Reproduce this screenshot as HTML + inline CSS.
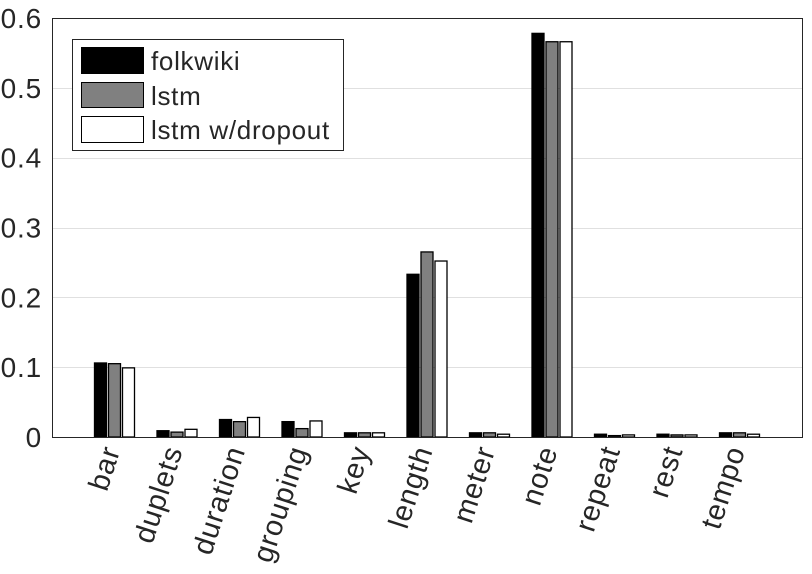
<!DOCTYPE html>
<html><head><meta charset="utf-8"><style>
body{margin:0;background:#fff}
svg text{font-family:"Liberation Sans",sans-serif;fill:#262626}
</style></head><body>
<svg id="chart" width="812" height="569" xmlns="http://www.w3.org/2000/svg">
<g id="grid"></g>
<g id="bars"></g>
<rect x="52.5" y="18.5" width="750" height="419" fill="none" stroke="#262626" stroke-width="1"/>
<g id="yticks"></g>
<g id="xticks"></g>
<g>
<rect x="72.5" y="39.5" width="271" height="111" fill="#fff" stroke="#262626"/>
<rect x="81.5" y="47.5" width="62" height="26" fill="#000" stroke="#000"/>
<text x="151" y="70" font-size="26" letter-spacing="0.7">folkwiki</text>
<rect x="81.5" y="82.5" width="62" height="25" fill="#808080" stroke="#000"/>
<text x="151" y="105" font-size="26" letter-spacing="0.7">lstm</text>
<rect x="81.5" y="116.5" width="62" height="26" fill="#fff" stroke="#000"/>
<text x="151" y="139" font-size="26" letter-spacing="0.7">lstm w/dropout</text>
</g>
</svg>
<script>
const categories=["bar","duplets","duration","grouping","key","length","meter","note","repeat","rest","tempo"];
const folkwiki=[0.106,0.009,0.025,0.022,0.006,0.233,0.006,0.578,0.004,0.004,0.006];
const lstm=[0.105,0.007,0.022,0.012,0.006,0.265,0.006,0.566,0.002,0.003,0.006];
const dropout=[0.099,0.011,0.028,0.023,0.006,0.252,0.004,0.566,0.003,0.003,0.004];
const yTicks=[0,0.1,0.2,0.3,0.4,0.5,0.6];
const yTickLabels=["0","0.1","0.2","0.3","0.4","0.5","0.6"];
const NS="http://www.w3.org/2000/svg";
const x0=52,x1=802,y0=437,y1=18,yMax=0.6;
const step=(x1-x0)/(categories.length+1);
function xc(i){return x0+step*(i+1);}
function ys(v){return y0-(v/yMax)*(y0-y1);}
function mk(tag,attrs,parent){const e=document.createElementNS(NS,tag);for(const k in attrs)e.setAttribute(k,attrs[k]);parent.appendChild(e);return e;}
const grid=document.getElementById('grid'),yt=document.getElementById('yticks'),xt=document.getElementById('xticks'),bars=document.getElementById('bars');
yTicks.forEach((t,i)=>{
  const y=Math.round(ys(t))+0.5;
  if(t>0&&t<yMax){const g=mk('line',{x1:x0,x2:x1,y1:y,y2:y,stroke:'#e0e0e0','stroke-width':1},grid);
  
  }
  const tx=mk('text',{x:42,y:ys(t)+10,'font-size':28,'letter-spacing':0.8,'text-anchor':'end'},yt);
  tx.textContent=yTickLabels[i];
  
  
});
const series=[[folkwiki,'#000','folkwiki'],[lstm,'#808080','lstm'],[dropout,'#fff','lstm-dropout']];
const bw=12,gap=14;
categories.forEach((c,i)=>{
  series.forEach((s,j)=>{
    const v=s[0][i];
    const cx=xc(i)+(j-1)*gap;
    const r=mk('rect',{x:cx-bw/2,y:ys(v),width:bw,height:y0-ys(v),fill:s[1],stroke:'#000','stroke-width':1.3},bars);
    
    
  });
  const tx=mk('text',{x:0,y:0,'font-size':29,'letter-spacing':0.9,'text-anchor':'end',transform:'translate('+(xc(i)+6)+',450) rotate(-72)'},xt);
  tx.textContent=c;
  
  
});
</script>
</body></html>
